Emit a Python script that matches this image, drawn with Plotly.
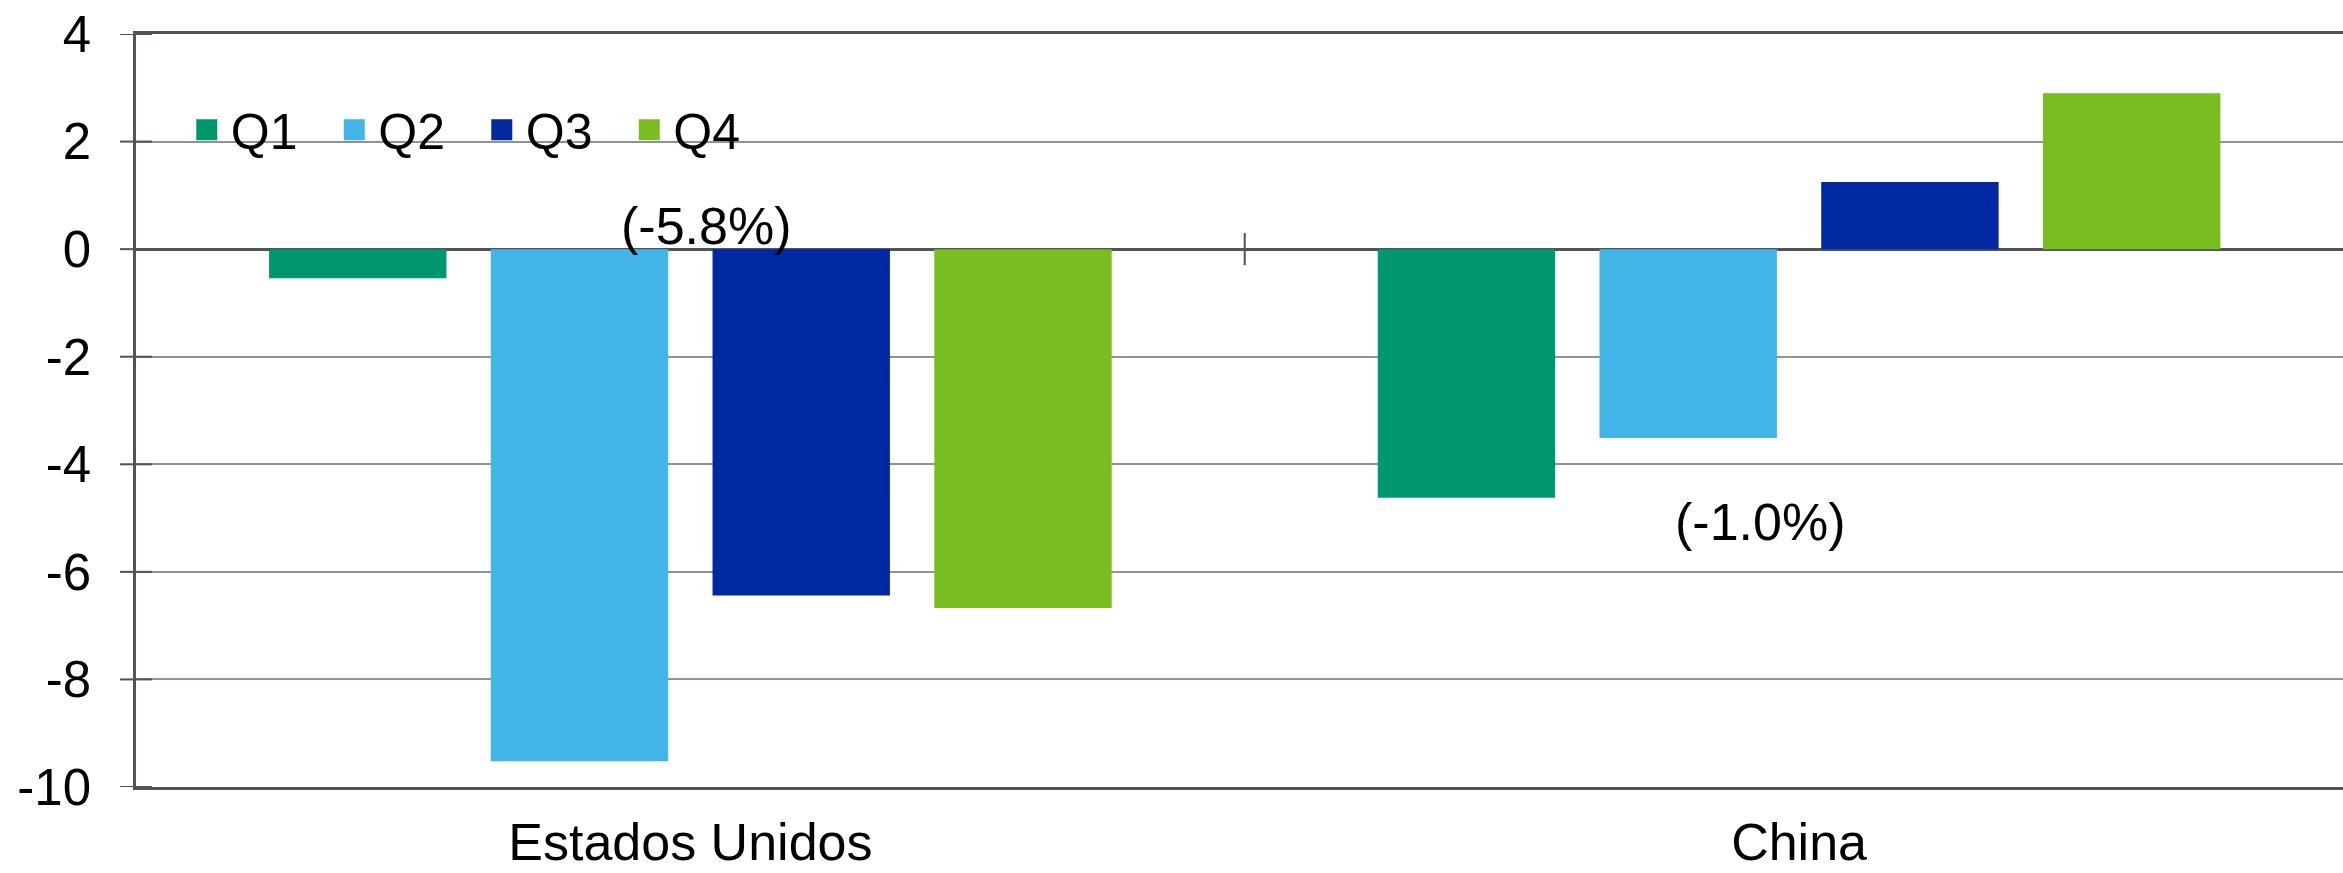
import plotly.graph_objects as go

# Data: quarterly growth by economy
categories = ["Estados Unidos", "China"]
quarters = ["Q1", "Q2", "Q3", "Q4"]
q1 = [-0.54, -4.62]
q2 = [-9.52, -3.51]
q3 = [-6.44, 1.25]
q4 = [-6.67, 2.90]
series = [q1, q2, q3, q4]
y_ticks = [4, 2, 0, -2, -4, -6, -8, -10]
y_tick_text = [str(v) for v in y_ticks]
notes = ["(-5.8%)", "(-1.0%)"]

colors = ["#00976F", "#42B4E6", "#0028A0", "#79BD21"]
dark = "#4E5459"
grid = "#8E9399"
font_family = "Liberation Sans, Arial, sans-serif"
plot_w = 2343 - 136
tick_half = 16 / plot_w  # half-length of the crossing y ticks, in paper units

fig = go.Figure()

for name, vals, col in zip(quarters, series, colors):
    fig.add_trace(go.Bar(
        x=categories, y=vals, name=name,
        marker=dict(color=col, line=dict(width=0)),
        showlegend=False,
    ))

# legend entries with larger square swatches
for name, col in zip(quarters, colors):
    fig.add_trace(go.Scatter(
        x=[None], y=[None], mode="markers", name=name,
        marker=dict(symbol="square", size=16, color=col,
                    line=dict(color=col, width=5)),
    ))

fig.update_layout(
    width=2343, height=873,
    margin=dict(l=136, r=0, t=34, b=86),
    paper_bgcolor="white", plot_bgcolor="white",
    font=dict(family=font_family, color="black"),
    barmode="group", bargap=0.2, bargroupgap=0.2,
    xaxis=dict(
        range=[-0.5, 1.4906], showgrid=False, zeroline=False,
        showline=True, mirror=True, linecolor=dark, linewidth=2.5,
        ticks="", tickfont=dict(size=52), ticklabelstandoff=8,
        automargin=False,
    ),
    yaxis=dict(
        range=[-10, 4], tickvals=y_ticks, ticktext=y_tick_text,
        showgrid=True, gridcolor=grid, gridwidth=2,
        zeroline=True, zerolinecolor=dark, zerolinewidth=2.5,
        showline=True, linecolor=dark, linewidth=2.5,
        ticks="outside", ticklen=16, tickwidth=2, tickcolor="rgba(0,0,0,0)",
        tickfont=dict(size=51), ticklabelstandoff=16,
        automargin=False,
    ),
    legend=dict(
        orientation="h", x=0.0212, xanchor="left", y=0.873, yanchor="middle",
        font=dict(size=50), bgcolor="rgba(0,0,0,0)",
        itemwidth=38, entrywidth=94.5, entrywidthmode="pixels",
    ),
)

# y ticks crossing the value axis
for v in y_ticks:
    fig.add_shape(type="line", xref="paper", yref="y",
                  x0=-tick_half, x1=tick_half, y0=v, y1=v,
                  line=dict(color=dark, width=2))

# tick mark separating the two categories on the zero line
fig.add_shape(type="line", xref="x", yref="y", x0=0.5, x1=0.5, y0=-0.3, y1=0.3,
              line=dict(color=dark, width=2))

fig.add_annotation(x=0.014, y=0.43, xref="x", yref="y", text=notes[0],
                   showarrow=False, font=dict(size=52), yanchor="middle")
fig.add_annotation(x=0.965, y=-5.07, xref="x", yref="y", text=notes[1],
                   showarrow=False, font=dict(size=52), yanchor="middle")

fig.write_html("out.html")
